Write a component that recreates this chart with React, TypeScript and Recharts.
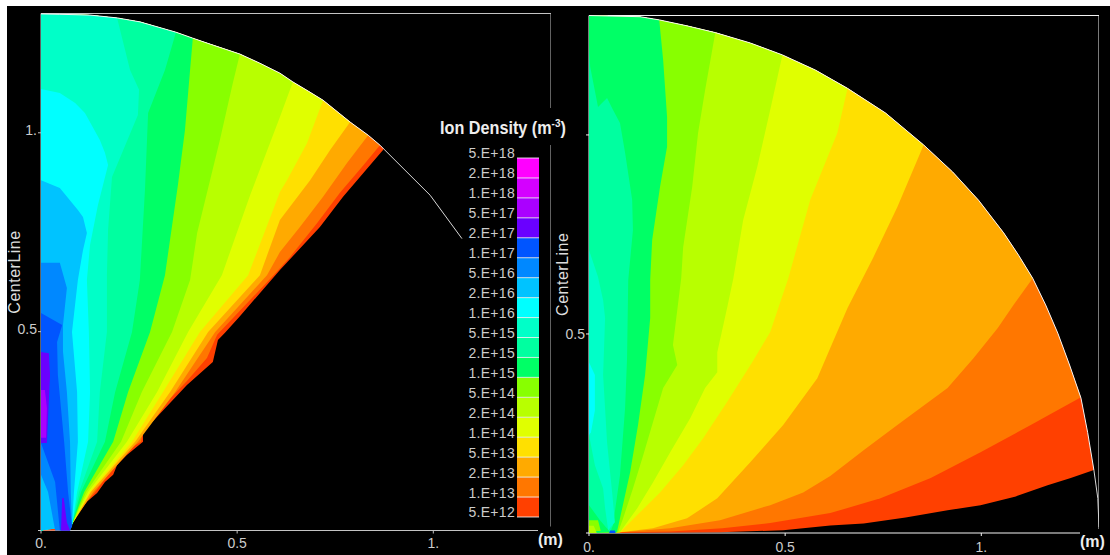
import { BarChart, Bar, ScatterChart, Scatter, XAxis, YAxis, ReferenceLine, Label } from 'recharts';

type Pt = [number, number];

// band colours, lowest density first
const red = '#ff4000';
const orange = '#ff7700';
const amber = '#ffaa00';
const yellow = '#ffe000';
const lime = '#e0ff00';
const chartreuse = '#b8ff00';
const grass = '#88ff00';
const green = '#00ff66';
const mint = '#00ffa0';
const teal = '#00ffc8';
const cyan = '#00ffff';
const sky = '#00c3ff';
const azure = '#0088ff';
const blue = '#0055ff';
const indigo = '#6a00ff';
const violet = '#aa00ff';

const legendLabels = ['5.E+18', '2.E+18', '1.E+18', '5.E+17', '2.E+17', '1.E+17', '5.E+16', '2.E+16', '1.E+16', '5.E+15', '2.E+15', '1.E+15', '5.E+14', '2.E+14', '1.E+14', '5.E+13', '2.E+13', '1.E+13', '5.E+12'];
const legendColors = ['#ff00ff', '#d400ff', violet, indigo, blue, azure, sky, cyan, teal, mint, green, grass, chartreuse, lime, yellow, amber, orange, red];

const axisTicks = [0, 0.5, 1];

// left plot, contour edges in metres (arc end first, down to the tip)
const leftArc: Pt[] = [[0, 1.299], [0.048, 1.298], [0.125, 1.296], [0.194, 1.289], [0.252, 1.279], [0.344, 1.253], [0.387, 1.238], [0.431, 1.223], [0.507, 1.198], [0.558, 1.175], [0.609, 1.15], [0.642, 1.128], [0.681, 1.105], [0.719, 1.082], [0.788, 1.027], [0.834, 0.994], [0.864, 0.969], [0.874, 0.959]];
const leftTail: Pt[] = [[0.874, 0.959], [0.992, 0.843], [1.073, 0.734]];
const leftLower: Pt[] = [[0.77, 0.839], [0.711, 0.763], [0.609, 0.655], [0.507, 0.539], [0.469, 0.497], [0.451, 0.479], [0.438, 0.424], [0.372, 0.366], [0.26, 0.248], [0.26, 0.223], [0.219, 0.19], [0.194, 0.165], [0.184, 0.14], [0.163, 0.122], [0.143, 0.094], [0.117, 0.072], [0.099, 0.047], [0.074, 0.011], [0.074, 0]];
const leftOrange: Pt[] = [[0.864, 0.969], [0.818, 0.914], [0.762, 0.849], [0.704, 0.773], [0.635, 0.688], [0.594, 0.643], [0.449, 0.492], [0.423, 0.434], [0.372, 0.376], [0.321, 0.323], [0.26, 0.25], [0.255, 0.223], [0.209, 0.197], [0.176, 0.147], [0.138, 0.097], [0.099, 0.052], [0.079, 0.016]];
const leftAmber: Pt[] = [[0.834, 0.994], [0.78, 0.924], [0.719, 0.839], [0.66, 0.763], [0.609, 0.7], [0.576, 0.642], [0.444, 0.499], [0.342, 0.348], [0.247, 0.223], [0.133, 0.097], [0.079, 0.016]];
const leftYellow: Pt[] = [[0.788, 1.027], [0.737, 0.957], [0.686, 0.881], [0.609, 0.781], [0.558, 0.642], [0.426, 0.499], [0.329, 0.348], [0.24, 0.223], [0.127, 0.097], [0.079, 0.016]];
const leftLime: Pt[] = [[0.719, 1.082], [0.678, 0.974], [0.627, 0.881], [0.609, 0.851], [0.528, 0.642], [0.405, 0.499], [0.311, 0.348], [0.232, 0.223], [0.125, 0.097], [0.079, 0.016]];
const leftChartreuse: Pt[] = [[0.642, 1.128], [0.609, 1.04], [0.533, 0.843], [0.461, 0.642], [0.375, 0.499], [0.296, 0.348], [0.219, 0.223], [0.12, 0.097], [0.079, 0.016]];
const leftGrass: Pt[] = [[0.507, 1.198], [0.489, 1.125], [0.456, 0.982], [0.398, 0.748], [0.38, 0.63], [0.334, 0.499], [0.257, 0.348], [0.204, 0.223], [0.115, 0.097], [0.079, 0.016]];
const leftGreen: Pt[] = [[0.387, 1.238], [0.38, 1.158], [0.367, 1.007], [0.349, 0.869], [0.316, 0.642], [0.278, 0.499], [0.222, 0.348], [0.184, 0.223], [0.11, 0.097], [0.079, 0.016]];
const leftMint: Pt[] = [[0.344, 1.253], [0.316, 1.158], [0.273, 1.05], [0.265, 0.856], [0.252, 0.63], [0.232, 0.499], [0.189, 0.348], [0.163, 0.223], [0.102, 0.097], [0.079, 0.016]];
const leftTeal: Pt[] = [[0.194, 1.289], [0.227, 1.158], [0.25, 1.108], [0.247, 1.045], [0.181, 0.889], [0.171, 0.756], [0.168, 0.642], [0.168, 0.499], [0.15, 0.348], [0.143, 0.223], [0.097, 0.097], [0.079, 0.016]];
// closed patches against the centre line
const leftCyan: Pt[] = [[0, 1.11], [0.048, 1.1], [0.087, 1.075], [0.112, 1.05], [0.13, 1.018], [0.15, 0.982], [0.163, 0.95], [0.171, 0.919], [0.145, 0.818], [0.125, 0.718], [0.117, 0.63], [0.122, 0.499], [0.125, 0.348], [0.12, 0.223], [0.092, 0.097], [0.079, 0.011], [0, 0]];
const leftSky: Pt[] = [[0, 0.881], [0.048, 0.861], [0.094, 0.806], [0.107, 0.788], [0.117, 0.748], [0.107, 0.705], [0.094, 0.63], [0.079, 0.499], [0.092, 0.348], [0.094, 0.223], [0.084, 0.097], [0.079, 0.011], [0, 0]];
const leftAzure: Pt[] = [[0, 0.673], [0.048, 0.673], [0.066, 0.61], [0.056, 0.517], [0.056, 0.45], [0.066, 0.348], [0.074, 0.223], [0.076, 0.097], [0.079, 0.011], [0.074, 0], [0.036, 0], [0.018, 0.097], [0, 0.14]];
const leftBlue: Pt[] = [[0, 0.547], [0.054, 0.517], [0.041, 0.474], [0.043, 0.391], [0.059, 0.223], [0.069, 0.097], [0.079, 0.011], [0.074, 0], [0.048, 0], [0.036, 0.122], [0, 0.22]];
const leftIndigo: Pt[] = [[0, 0.449], [0.02, 0.446], [0.023, 0.391], [0.015, 0.22], [0, 0.22]];
const leftViolet: Pt[] = [[0, 0.353], [0.01, 0.353], [0.015, 0.308], [0.013, 0.233], [0, 0.233]];
const leftIndigoBase: Pt[] = [[0.054, 0.082], [0.058, 0.082], [0.066, 0.02], [0.074, 0], [0.051, 0]];

// right plot
const rightArc: Pt[] = [[0, 1.3], [0.13, 1.297], [0.179, 1.289], [0.25, 1.274], [0.322, 1.257], [0.411, 1.231], [0.493, 1.201], [0.577, 1.163], [0.659, 1.117], [0.756, 1.055], [0.853, 0.975], [0.927, 0.907], [0.993, 0.836], [1.057, 0.754], [1.095, 0.698], [1.131, 0.64], [1.164, 0.573], [1.195, 0.502], [1.225, 0.422], [1.254, 0.339], [1.271, 0.253], [1.287, 0.158]];
const rightTail: Pt[] = [[1.287, 0.158], [1.297, 0.087], [1.3, 0.015]];
const rightLower: Pt[] = [[1.228, 0.138], [1.169, 0.12], [1.088, 0.092], [0.998, 0.07], [0.914, 0.057], [0.807, 0.039], [0.7, 0.024], [0.615, 0.019], [0.495, 0.007], [0.334, 0.002], [0.074, 0]];
const rightOrange: Pt[] = [[1.254, 0.341], [1.126, 0.271], [0.998, 0.203], [0.871, 0.138], [0.743, 0.087], [0.615, 0.05], [0.462, 0.025], [0.34, 0.012], [0.207, 0.004], [0.105, 0.002]];
const rightAmber: Pt[] = [[1.131, 0.64], [1.082, 0.573], [1.042, 0.515], [0.98, 0.439], [0.914, 0.364], [0.786, 0.271], [0.7, 0.208], [0.615, 0.143], [0.546, 0.102], [0.462, 0.07], [0.334, 0.032], [0.207, 0.012], [0.079, 0.002]];
const rightYellow: Pt[] = [[0.853, 0.975], [0.786, 0.819], [0.725, 0.693], [0.659, 0.565], [0.615, 0.465], [0.582, 0.389], [0.495, 0.271], [0.411, 0.178], [0.327, 0.087], [0.25, 0.037], [0.163, 0.012], [0.079, 0.002]];
const rightLime: Pt[] = [[0.659, 1.117], [0.633, 1.005], [0.564, 0.837], [0.508, 0.64], [0.462, 0.505], [0.416, 0.429], [0.352, 0.329], [0.291, 0.238], [0.24, 0.17], [0.181, 0.102], [0.123, 0.045], [0.079, 0.002]];
const rightChartreuse: Pt[] = [[0.493, 1.201], [0.462, 1.063], [0.429, 0.92], [0.393, 0.786], [0.368, 0.64], [0.352, 0.565], [0.327, 0.454], [0.327, 0.404], [0.296, 0.364], [0.258, 0.288], [0.207, 0.203], [0.163, 0.127], [0.123, 0.062], [0.079, 0.002]];
const rightGrass: Pt[] = [[0.322, 1.257], [0.296, 1.113], [0.278, 1.005], [0.263, 0.869], [0.24, 0.718], [0.235, 0.64], [0.214, 0.472], [0.225, 0.422], [0.189, 0.364], [0.163, 0.278], [0.138, 0.195], [0.112, 0.112], [0.087, 0.037], [0.074, 0.002]];
const rightGreen: Pt[] = [[0.179, 1.289], [0.189, 1.188], [0.199, 1.045], [0.199, 0.97], [0.181, 0.869], [0.161, 0.736], [0.156, 0.635], [0.156, 0.54], [0.143, 0.397], [0.125, 0.271], [0.105, 0.153], [0.079, 0.037], [0.071, 0.002]];
const rightMint: Pt[] = [[0, 1.226], [0.003, 1.171], [0.023, 1.07], [0.046, 1.093], [0.061, 1.063], [0.079, 1.03], [0.092, 0.955], [0.11, 0.837], [0.112, 0.761], [0.1, 0.635], [0.097, 0.439], [0.092, 0.314], [0.079, 0.145], [0.061, 0.019], [0.054, 0.002], [0.028, 0.032], [0, 0.07]];
const rightTeal: Pt[] = [[0, 0.711], [0.023, 0.643], [0.036, 0.585], [0.041, 0.54], [0.036, 0.397], [0.046, 0.228], [0.059, 0.102], [0.066, 0.027], [0.049, 0.007], [0.041, 0.062], [0.036, 0.112], [0.015, 0.17], [0, 0.246]];
const rightCyan: Pt[] = [[0, 0.429], [0.015, 0.397], [0.015, 0.308], [0.005, 0.253], [0, 0.246]];
const rightCornerGrass: Pt[] = [[0, 0.032], [0.023, 0.032], [0.03, 0.005], [0, 0.005]];
const rightCornerChartreuse: Pt[] = [[0, 0.018], [0.012, 0.018], [0.02, 0], [0, 0]];
const rightBlueBase: Pt[] = [[0.051, 0], [0.068, 0], [0.066, 0.006], [0.054, 0.006]];

const toRows = (pts: Pt[]) => pts.map(([x, y]) => ({ x, y }));

// everything left of a contour edge: arc up to the edge, the edge, back to the origin
const leftOf = (arc: Pt[], edge: Pt[]): Pt[] => [...arc.filter(p => p[0] < edge[0][0]), ...edge, [0, 0]];

const leftBands: { color: string; pts: Pt[] }[] = [
  { color: red, pts: [...leftArc, ...leftLower, [0, 0]] },
  { color: orange, pts: leftOf(leftArc, leftOrange) },
  { color: amber, pts: leftOf(leftArc, leftAmber) },
  { color: yellow, pts: leftOf(leftArc, leftYellow) },
  { color: lime, pts: leftOf(leftArc, leftLime) },
  { color: chartreuse, pts: leftOf(leftArc, leftChartreuse) },
  { color: grass, pts: leftOf(leftArc, leftGrass) },
  { color: green, pts: leftOf(leftArc, leftGreen) },
  { color: mint, pts: leftOf(leftArc, leftMint) },
  { color: teal, pts: leftOf(leftArc, leftTeal) },
  { color: cyan, pts: leftCyan },
  { color: sky, pts: leftSky },
  { color: azure, pts: leftAzure },
  { color: blue, pts: leftBlue },
  { color: indigo, pts: leftIndigo },
  { color: violet, pts: leftViolet },
  { color: indigo, pts: leftIndigoBase },
];

const rightBands: { color: string; pts: Pt[] }[] = [
  { color: red, pts: [...rightArc, ...rightLower, [0, 0]] },
  { color: orange, pts: leftOf(rightArc, rightOrange) },
  { color: amber, pts: leftOf(rightArc, rightAmber) },
  { color: yellow, pts: leftOf(rightArc, rightYellow) },
  { color: lime, pts: leftOf(rightArc, rightLime) },
  { color: chartreuse, pts: leftOf(rightArc, rightChartreuse) },
  { color: grass, pts: leftOf(rightArc, rightGrass) },
  { color: green, pts: leftOf(rightArc, rightGreen) },
  { color: mint, pts: rightMint },
  { color: teal, pts: rightTeal },
  { color: cyan, pts: rightCyan },
  { color: grass, pts: rightCornerGrass },
  { color: chartreuse, pts: rightCornerChartreuse },
  { color: blue, pts: rightBlueBase },
];

const font = '"Liberation Sans", Arial, sans-serif';
const noPoint = () => <g />;

interface ContourPlotProps {
  left: number
  top: number
  bottom: number
  bands: { color: string; pts: Pt[] }[]
  outline: Pt[]
  tail: Pt[]
  lineColor: string
  yLabels: { [value: string]: string }
  labelDy: number
  xMargin: number
}

function ContourPlot({ left, top, bottom, bands, outline, tail, lineColor, yLabels, labelDy, xMargin }: ContourPlotProps) {
  return (
    <div style={{ position: 'absolute', left, top: 0 }}>
      <ScatterChart width={551} height={555} margin={{ top, right: 0, bottom: 555 - bottom - 22, left: 0 }}>
        {bands.map((b, i) => (
          <Scatter key={i} data={toRows(b.pts)} line={{ fill: b.color, stroke: 'none' }} shape={noPoint} isAnimationActive={false} legendType="none" />
        ))}
        <Scatter data={toRows(outline)} line={{ stroke: '#f4f4f4', strokeWidth: 1 }} shape={noPoint} isAnimationActive={false} legendType="none" />
        <Scatter data={toRows(tail)} line={{ stroke: '#d8d8d8', strokeWidth: 1 }} shape={noPoint} isAnimationActive={false} legendType="none" />
        <XAxis
          type="number"
          dataKey="x"
          domain={[0, 1.3]}
          ticks={axisTicks}
          interval={0}
          height={22}
          tickSize={3}
          tickMargin={xMargin}
          tickFormatter={(v: number) => (v === 0.5 ? '0.5' : `${v}.`)}
          stroke={lineColor}
          tick={{ fill: '#cccccc', fontSize: 14, fontFamily: font }}
        />
        <YAxis
          type="number"
          dataKey="y"
          domain={[0, 1.3]}
          ticks={axisTicks}
          interval={0}
          width={41}
          tickSize={3}
          tickMargin={1}
          tickFormatter={(v: number) => yLabels[String(v)] ?? ''}
          stroke={lineColor}
          tick={{ fill: '#cccccc', fontSize: 14, fontFamily: font, dy: labelDy }}
        >
          <Label value="CenterLine" angle={-90} position="center" dx={-6} fill="#dddddd" fontSize={16} fontFamily={font} letterSpacing={0.5} />
        </YAxis>
        <ReferenceLine y={1.3} stroke={lineColor} />
        <ReferenceLine segment={[{ x: 1.3, y: 0.01 }, { x: 1.3, y: 1.3 }]} stroke={lineColor} />
      </ScatterChart>
    </div>
  );
}

const legendRow = [Object.fromEntries(legendColors.map((_, i) => [`band${i}`, 1]))];
const legendTicks = legendLabels.map((_, i) => 18 - i);

function DensityLegend() {
  return (
    <div style={{ position: 'absolute', left: 455, top: 138 }}>
      <BarChart width={85} height={398} data={legendRow} layout="horizontal" barCategoryGap={0} margin={{ top: 20, right: 1, bottom: 19, left: 0 }}>
        <XAxis hide />
        <YAxis
          type="number"
          domain={[0, 18]}
          ticks={legendTicks}
          interval={0}
          width={62}
          axisLine={false}
          tickLine={false}
          tickSize={0}
          tickMargin={2}
          tickFormatter={(v: number) => legendLabels[18 - v]}
          tick={{ fill: '#cccccc', fontSize: 14, fontFamily: font, dy: -4.5, letterSpacing: 0.3 }}
        />
        {[...legendColors].reverse().map((c, i) => (
          <Bar key={c} dataKey={`band${i}`} stackId="scale" fill={c} isAnimationActive={false} legendType="none" />
        ))}
        {legendTicks.map(t => (
          <ReferenceLine key={t} y={t} stroke="#ffffff" strokeOpacity={0.8} />
        ))}
      </BarChart>
    </div>
  );
}

const unitStyle: React.CSSProperties = { position: 'absolute', width: 27, height: 22, lineHeight: '22px', background: '#000', color: '#eee', fontFamily: font, fontWeight: 700, fontSize: 16 };

export default function App() {
  return (
    <div style={{ position: 'fixed', left: 0, top: 0, width: 1110, height: 555, background: '#fff', overflow: 'hidden' }}>
      <div style={{ position: 'absolute', left: 7, top: 6, width: 1103, height: 549, background: '#000' }} />
      <ContourPlot left={0} top={13.5} bottom={530.5} bands={leftBands} outline={leftArc} tail={leftTail} lineColor="#c4c4c4" yLabels={{ '0.5': '0.5', '1': '1.' }} labelDy={-3} xMargin={5} />
      <ContourPlot left={548} top={15.5} bottom={533} bands={rightBands} outline={rightArc} tail={rightTail} lineColor="#f4f4f4" yLabels={{ '0.5': '0.5' }} labelDy={0} xMargin={6} />
      <div style={{ position: 'absolute', left: 437, top: 108, width: 132, height: 37, background: '#000' }} />
      <DensityLegend />
      <div style={{ position: 'absolute', left: 440, top: 108, width: 126, height: 37, color: '#eee', fontFamily: font, fontWeight: 700, fontSize: 18, lineHeight: '40px', whiteSpace: 'nowrap', transform: 'scaleX(0.9)', transformOrigin: 'left center' }}>
        Ion Density (m<sup style={{ fontSize: 11, lineHeight: 0 }}>-3</sup>)
      </div>
      <div style={{ ...unitStyle, left: 538, top: 529 }}>(m)</div>
      <div style={{ ...unitStyle, left: 1080, top: 531 }}>(m)</div>
    </div>
  );
}
